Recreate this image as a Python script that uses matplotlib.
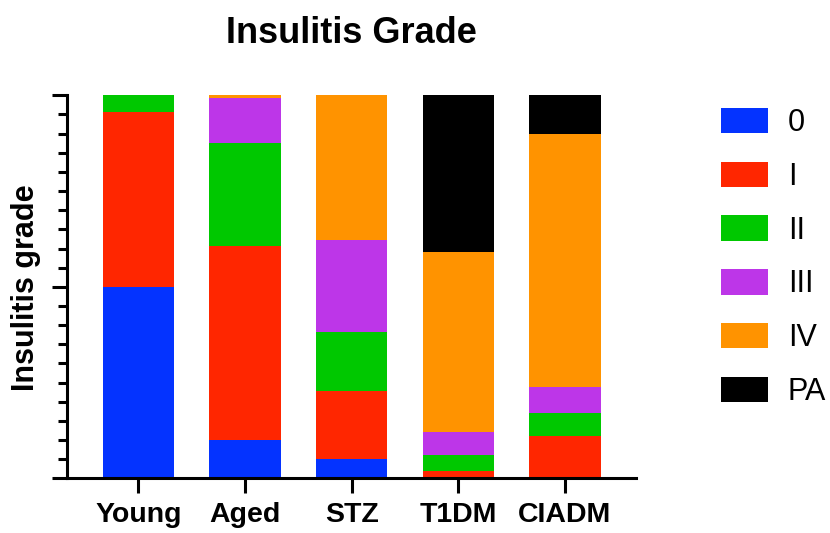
import numpy as np
import matplotlib.pyplot as plt
from matplotlib.ticker import MultipleLocator

plt.rcParams['font.family'] = ['Liberation Sans', 'DejaVu Sans']

groups = ['Young', 'Aged', 'STZ', 'T1DM', 'CIADM']
grades = ['0', 'I', 'II', 'III', 'IV', 'PA']

# percent of islets per insulitis grade, one list per grade (same order as groups)
grade_0 = [50.0, 9.9, 5.0, 0.0, 0.0]
grade_I = [45.6, 50.7, 17.8, 1.8, 11.0]
grade_II = [4.4, 26.9, 15.3, 4.2, 6.0]
grade_III = [0.0, 11.7, 24.1, 6.1, 6.8]
grade_IV = [0.0, 0.8, 37.8, 47.0, 66.1]
grade_PA = [0.0, 0.0, 0.0, 40.9, 10.1]

colors = ['#0433FF', '#FF2600', '#00C800', '#BD36E8', '#FF9300', '#000000']

W, H = 830, 533
fig = plt.figure(figsize=(W / 100, H / 100), dpi=100)
ax = fig.add_axes([67.3 / W, 54.7 / H, (636 - 67.3) / W, 383 / H])

x = np.arange(len(groups))
bottom = np.zeros(len(groups))
for vals, lab, c in zip([grade_0, grade_I, grade_II, grade_III, grade_IV, grade_PA],
                        grades, colors):
    ax.bar(x, vals, width=0.667, bottom=bottom, color=c, label=lab, linewidth=0)
    bottom += np.array(vals)

ax.set_xlim(-0.666, 4.666)
ax.set_ylim(0, 100)
ax.spines['top'].set_visible(False)
ax.spines['right'].set_visible(False)
for s in ['left', 'bottom']:
    ax.spines[s].set_linewidth(2.2)

ax.set_xticks(x)
ax.set_xticklabels(groups, fontsize=20.5, fontweight='bold')
ax.tick_params(axis='x', length=11, width=2.2, pad=6)
ax.yaxis.set_major_locator(MultipleLocator(50))
ax.yaxis.set_minor_locator(MultipleLocator(5))
ax.tick_params(axis='y', which='major', length=11, width=2.2, labelleft=False)
ax.tick_params(axis='y', which='minor', length=6.5, width=2.2)

# y label placed by its baseline, left of the tick marks
fig.text(34 / W, 1 - 287.5 / H, 'Insulitis grade', rotation=90, rotation_mode='anchor',
         ha='center', va='baseline', fontsize=22, fontweight='bold')
ax.set_title('Insulitis Grade', fontsize=26, fontweight='bold', pad=38)

ax.legend(loc='upper left', bbox_to_anchor=(721 / W, 1 - 108 / H),
          bbox_transform=fig.transFigure, frameon=False, fontsize=22,
          borderpad=0, borderaxespad=0, handlelength=1.54, handleheight=0.9,
          handletextpad=0.65, labelspacing=0.77)

fig.savefig('out.png', dpi=100)
